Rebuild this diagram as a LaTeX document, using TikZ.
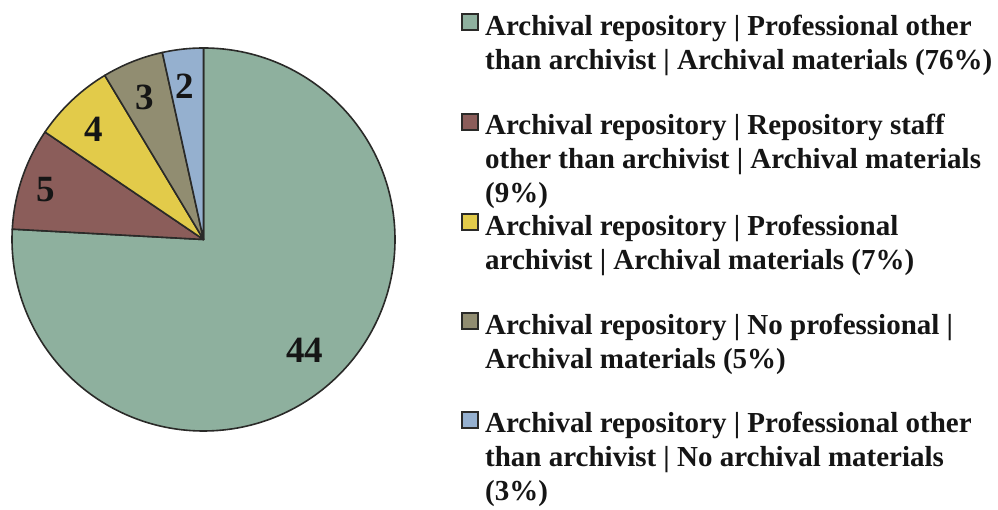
\documentclass[tikz,border=0pt]{standalone}
\usepackage{fontspec}
\setmainfont{Liberation Serif}
\definecolor{sliceA}{HTML}{8EB09E}
\definecolor{sliceB}{HTML}{8B5D5A}
\definecolor{sliceC}{HTML}{E2CB4A}
\definecolor{sliceD}{HTML}{918D71}
\definecolor{sliceE}{HTML}{95B0CF}
\definecolor{edge}{HTML}{2A2A28}
\definecolor{ink}{HTML}{151515}
\tikzset{
  wedge/.style={draw=edge, line width=1.6pt, line join=round},
  countlabel/.style={font=\bfseries\fontsize{37}{37}\selectfont, text=ink, inner sep=0pt},
  % anchored at the baseline of the last line of each entry
  legendtext/.style={font=\bfseries\fontsize{29}{34}\selectfont, text=ink, align=left,
                     anchor=base west, inner sep=0pt},
  legendkey/.style={draw=edge, line width=1.4pt},
}
\begin{document}
\begin{tikzpicture}[x=1pt,y=1pt]
  \useasboundingbox (0,0) rectangle (998,510);
  \coordinate (c) at (203.5,270.5);
  \def\r{191.5}
  % pie slices: 44, 5, 4, 3, 2 of 58, clockwise from the top
  \filldraw[wedge, fill=sliceA] (c) -- ++(90:\r) arc[start angle=90, end angle=-183.103, radius=\r] -- cycle;
  \filldraw[wedge, fill=sliceB] (c) -- ++(176.897:\r) arc[start angle=176.897, end angle=145.862, radius=\r] -- cycle;
  \filldraw[wedge, fill=sliceC] (c) -- ++(145.862:\r) arc[start angle=145.862, end angle=121.034, radius=\r] -- cycle;
  \filldraw[wedge, fill=sliceD] (c) -- ++(121.034:\r) arc[start angle=121.034, end angle=102.414, radius=\r] -- cycle;
  \filldraw[wedge, fill=sliceE] (c) -- ++(102.414:\r) arc[start angle=102.414, end angle=90, radius=\r] -- cycle;
  % counts
  \node[countlabel] (n44) at (304.5,159.5) {44};
  \node[countlabel] (n5)  at (46,320) {5};
  \node[countlabel] (n4)  at (93.5,381) {4};
  \node[countlabel] (n3)  at (145,412.5) {3};
  \node[countlabel] (n2)  at (185,424) {2};
  % legend
  \draw[legendkey, fill=sliceA] (462,480) rectangle (478,496);
  \node[legendtext] (l1) at (485,440) {Archival repository | Professional other\\than archivist | Archival materials (76\%)};
  \draw[legendkey, fill=sliceB] (462,380) rectangle (478,396);
  \node[legendtext] (l2) at (485,307) {Archival repository | Repository staff\\other than archivist | Archival materials\\(9\%)};
  \draw[legendkey, fill=sliceC] (462,280) rectangle (478,296);
  \node[legendtext] (l3) at (485,240) {Archival repository | Professional\\archivist | Archival materials (7\%)};
  \draw[legendkey, fill=sliceD] (462,181) rectangle (478,197);
  \node[legendtext] (l4) at (485,141) {Archival repository | No professional |\\Archival materials (5\%)};
  \draw[legendkey, fill=sliceE] (462,82) rectangle (478,98);
  \node[legendtext] (l5) at (485,9) {Archival repository | Professional other\\than archivist | No archival materials\\(3\%)};
\end{tikzpicture}
\end{document}
